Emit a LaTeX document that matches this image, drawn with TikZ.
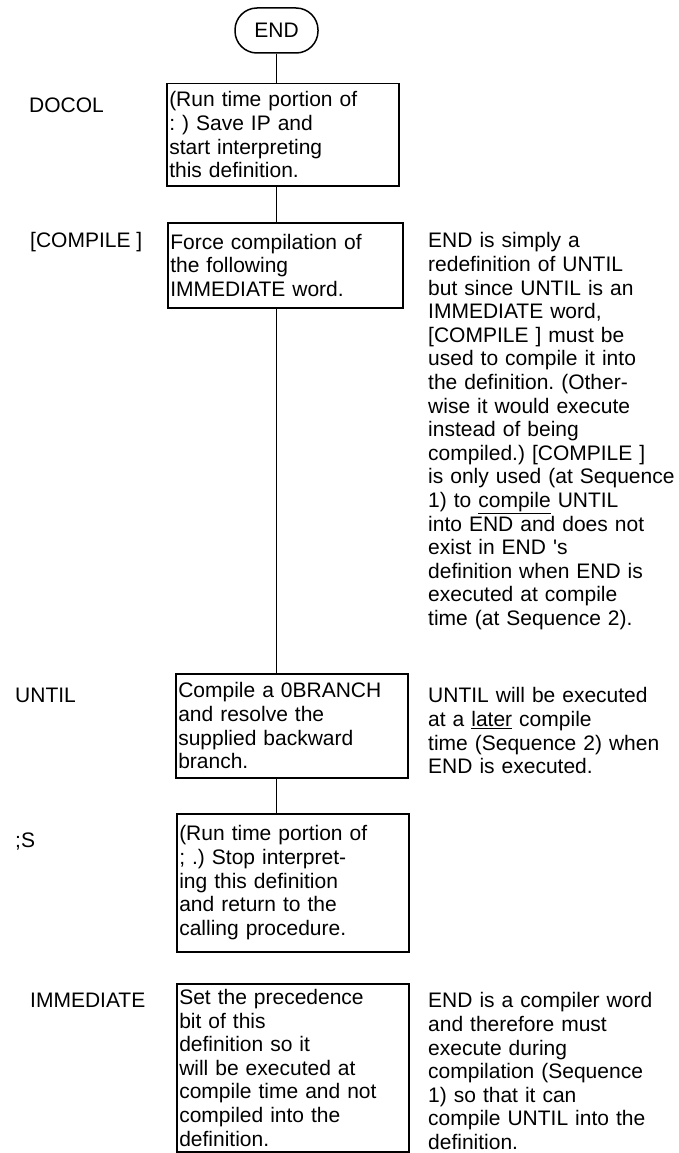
\documentclass[tikz,border=0pt]{standalone}
\usepackage{fontspec}
\setmainfont{Liberation Sans}
\usetikzlibrary{positioning,calc}
\tikzset{
  defbox/.style={
    rectangle, draw=black, line width=1.5pt,
    anchor=north west, inner xsep=2.5pt, inner ysep=0pt,
    text width=227pt, align=left
  },
  terminal/.style={
    rectangle, rounded corners=22pt, draw=black, line width=1.5pt,
    minimum width=83pt, minimum height=45pt, inner sep=0pt
  },
  wordlbl/.style={anchor=base west, inner sep=0pt},
  note/.style={anchor=north west, inner sep=0pt, text width=260pt, align=left},
  link/.style={line width=1.5pt}
}

\begin{document}
\begin{tikzpicture}[x=1pt,y=-1pt,font=\fontsize{21pt}{23.6pt}\selectfont\frenchspacing]
  \useasboundingbox (0,0) rectangle (679,1153);
  % terminal
  \node[terminal] (endterm) at (276.5,30.5) {END};
  % definition boxes
  \node[defbox, minimum height=102pt] (docol) at (166,83)
    {(Run time portion of\\: ) Save IP and\\start interpreting\\this definition.};
  \node[defbox, text width=230pt, minimum height=85pt] (compile) at (167,222)
    {Force compilation of\\the following\\IMMEDIATE word.};
  \node[defbox, minimum height=104pt] (until) at (175,673)
    {Compile a 0BRANCH\\and resolve the\\supplied backward\\branch.};
  \node[defbox, minimum height=138pt] (semis) at (176,813)
    {(Run time portion of\\; .) Stop interpret-\\ing this definition\\and return to the\\calling procedure.};
  \node[defbox, minimum height=168pt] (immed) at (176,983)
    {Set the precedence\\bit of this\\definition so it\\will be executed at\\compile time and not\\compiled into the\\definition.};
  % connectors
  \draw[link] (endterm.south) -- (endterm.south |- docol.north);
  \draw[link] (docol.south -| endterm) -- (compile.north -| endterm);
  \draw[link] (compile.south -| endterm) -- (until.north -| endterm);
  \draw[link] (until.south -| endterm) -- (semis.north -| endterm);
  % word names
  \foreach \n/\x/\y/\lab in {docol/29/112.5/DOCOL, compile/30/247.5/{[COMPILE ]},
      until/15/702.5/UNTIL, semis/15/847.5/{;S}, immed/30/1007.5/IMMEDIATE}
    \node[wordlbl] (\n lbl) at (\x,\y) {\lab};
  % notes
  \node[note] (compilenote) at (428,232.5)
    {END is simply a\\redefinition of UNTIL\\but since UNTIL is an\\IMMEDIATE word,\\{}[COMPILE ] must be\\used to compile it into\\the definition. (Other-\\wise it would execute\\instead of being\\compiled.) [COMPILE ]\\is only used (at Sequence\\1) to \underline{compile} UNTIL\\into END and does not\\exist in END \textquotesingle s\\definition when END is\\executed at compile\\time (at Sequence 2).};
  \node[note] (untilnote) at (428,687.5)
    {UNTIL will be executed\\at a \underline{later} compile\\time (Sequence 2) when\\END is executed.};
  \node[note] (immnote) at (428,992.5)
    {END is a compiler word\\and therefore must\\execute during\\compilation (Sequence\\1) so that it can\\compile UNTIL into the\\definition.};
\end{tikzpicture}
\end{document}
